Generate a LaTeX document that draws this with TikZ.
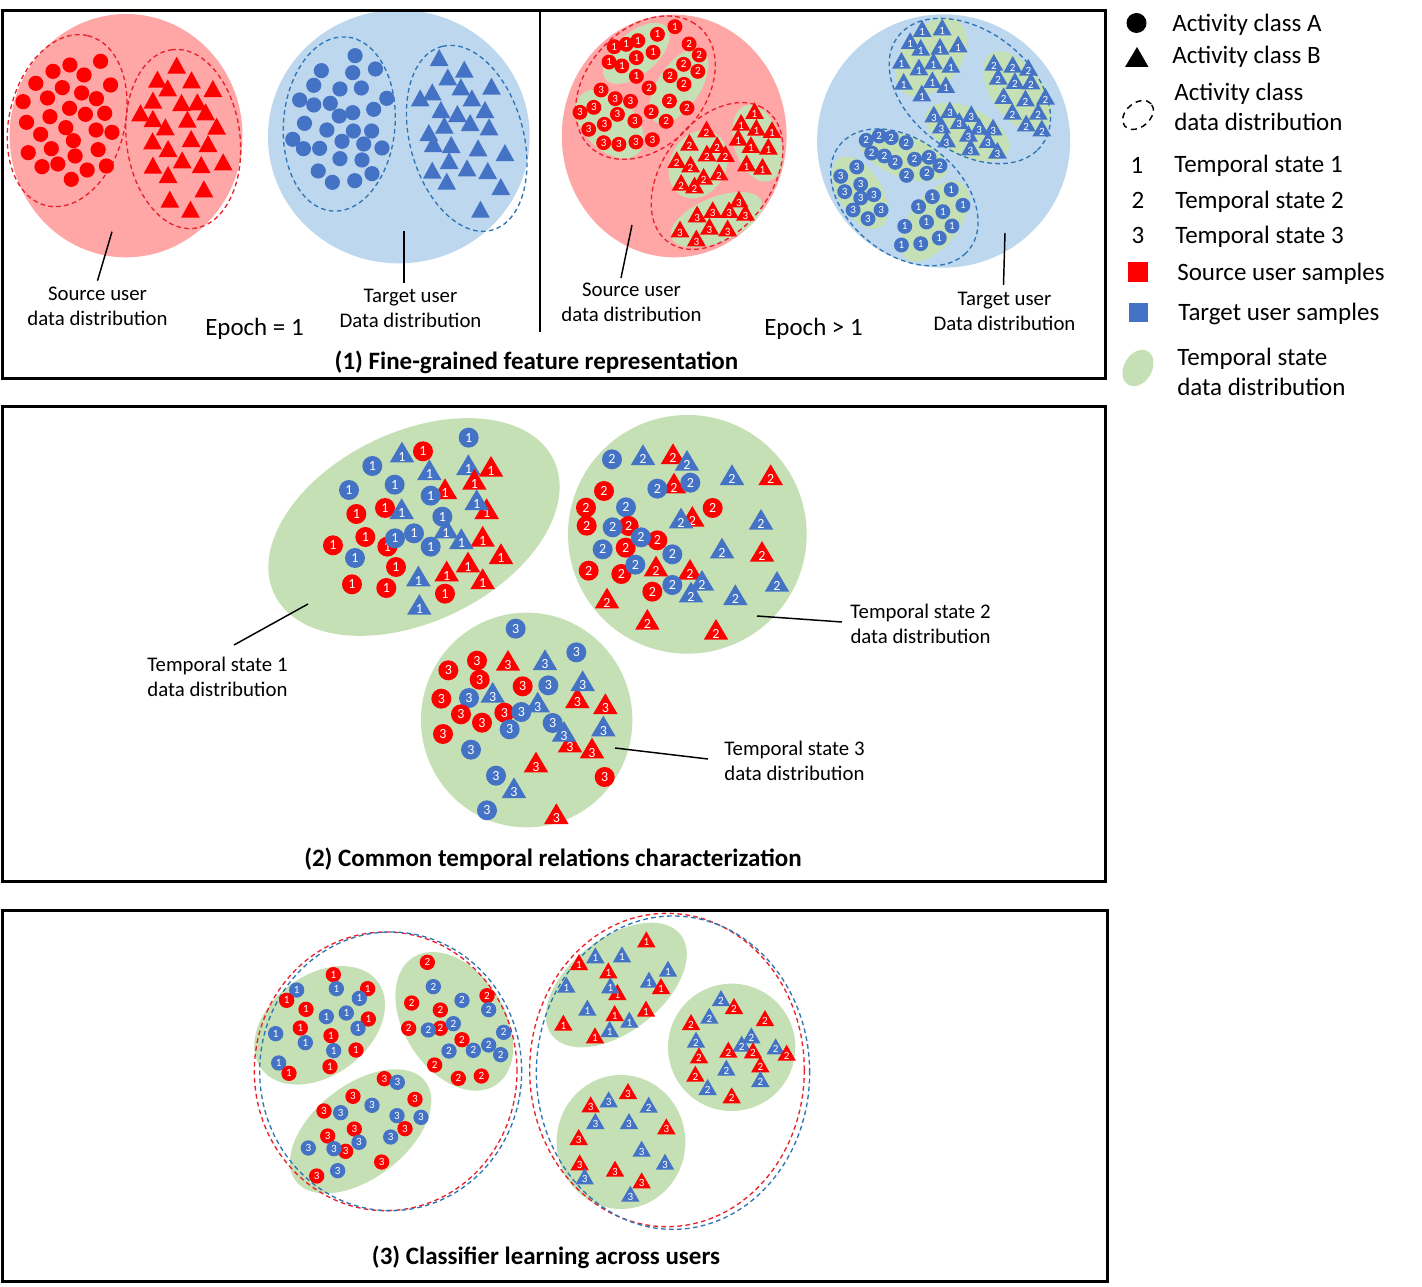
\documentclass[tikz,border=0pt]{standalone}
\usepackage{fontspec}
\setmainfont{Carlito}
\definecolor{pinkbg}{HTML}{FFA6A6}
\definecolor{bluebg}{HTML}{BDD7EE}
\definecolor{greenbg}{HTML}{C5E0B4}
\definecolor{mblue}{HTML}{4472C4}
\definecolor{dashblue}{HTML}{2E75B6}
\definecolor{dashred}{HTML}{E8212B}
\tikzset{
  panelbox/.style={draw=black,line width=2.25pt},
  reddash/.style={draw=dashred,line width=1pt,dash pattern=on 3.5pt off 2.5pt},
  bluedash/.style={draw=dashblue,line width=1pt,dash pattern=on 3.5pt off 2.5pt},
  pinkfill/.style={fill=pinkbg},
  bluefill/.style={fill=bluebg},
  greenfill/.style={fill=greenbg},
  leader/.style={draw=black,line width=1.1pt},
  lab/.style={font=\fontsize{15.6pt}{18.75pt}\selectfont,align=center,inner sep=0pt,anchor=base},
  epochlab/.style={font=\fontsize{18.7pt}{20pt}\selectfont,inner sep=0pt,anchor=base},
  titlelab/.style={font=\fontsize{18.75pt}{20pt}\selectfont\bfseries,inner sep=0pt,anchor=base},
  leglab/.style={font=\fontsize{18.75pt}{20pt}\selectfont,inner sep=0pt,anchor=base west},
  legnum/.style={font=\fontsize{18.75pt}{20pt}\selectfont,inner sep=0pt,anchor=base},
  numlab/.style={font=\fontsize{\numsize}{\numsize}\selectfont,text=white,inner sep=0pt},
}
\def\numsize{8.5pt}\def\rad{5.25pt}\def\tA{9pt}\def\tB{3.5pt}\def\tW{6.5pt}\def\lab{}\def\xfix{1}
\newcommand\mkrc{\fill[red] (\x,\y) circle[x radius=\rad/\xfix,y radius=\rad];\node[numlab] at (\x,\y) {\lab};}
\newcommand\mkbc{\fill[mblue] (\x,\y) circle[x radius=\rad/\xfix,y radius=\rad];\node[numlab] at (\x,\y) {\lab};}
\newcommand\mkrt{\fill[red] (\x,\y) ++(0pt,\tA) -- ++(\tW,{-\tA-\tB}) -- ++({-2*\tW},0pt) -- cycle;\node[numlab] at (\x,\y) {\lab};}
\newcommand\mkbt{\fill[mblue] (\x,\y) ++(0pt,\tA) -- ++(\tW,{-\tA-\tB}) -- ++({-2*\tW},0pt) -- cycle;\node[numlab] at (\x,\y) {\lab};}
\newcommand\items[2]{\def\lab{#1}\foreach \t/\x/\y in {#2}{\csname mk\t\endcsname}}
\newcommand\blob[6]{\path[#1,shift={(#2,#3)},rotate=#6] (0,0) circle[x radius=#4*.25pt,y radius=#5*.25pt];}
\tikzset{zoomed/.style 2 args={shift={(#1,#2)},x=.25pt,y=-.25pt}}
\begin{document}
\begin{tikzpicture}[x=.75pt,y=-.75pt]
\useasboundingbox (0,0) rectangle (1422,1287);
\fill[white] (0,0) rectangle (1422,1287);
%% PANEL 1 left
\begin{scope}[zoomed={0}{0},xscale=1.0333]
\def\xfix{1.0333}
\blob{pinkfill}{366}{407}{338}{365}{0}
\blob{bluefill}{1158}{410}{380}{380}{0}
\blob{reddash}{195}{362}{262}{168}{77}
\blob{reddash}{532}{417}{270}{165}{96.6}
\blob{bluedash}{985}{372}{262}{162}{85.6}
\blob{bluedash}{1355}{415}{285}{165}{104.5}
\def\rad{5.7pt}\def\tA{0pt}\def\tB{12.8pt}\def\tW{6.8pt}
\items{}{rc/292/184,rc/203/195,rc/154/214,rc/244/225,rc/104/250,rc/181/263,rc/321/255,rc/237/279,rc/138/294,rc/280/296,rc/67/305,rc/202/325,rc/248/343,rc/304/340,rc/145/350,rc/77/367,rc/191/383,rc/279/390,rc/325/397,rc/118/403,rc/213/422,rc/149/446,rc/285/449,rc/82/458,rc/218/468,rc/168/492,rc/122/500,rc/309/498,rc/253/510,rc/207/538}
\items{}{rt/513/170,rt/457/212,rt/487/238,rt/556/214,rt/618/240,rt/444/275,rt/527/282,rt/573/280,rt/408/313,rt/597/310,rt/444/330,rt/544/332,rt/629/353,rt/480/355,rt/443/397,rt/555/390,rt/604/405,rt/488/420,rt/529/454,rt/444/470,rt/584/468,rt/648/460,rt/488/498,rt/592/541,rt/493/572,rt/553/602}
\items{}{bc/1031/167,bc/1090/207,bc/933/212,bc/1024/218,bc/911/256,bc/987/267,bc/1049/264,bc/1123/295,bc/870/300,bc/911/315,bc/959/310,bc/1085/328,bc/1024/338,bc/985/348,bc/884/370,bc/1079/393,bc/1026/393,bc/949/390,bc/850/418,bc/993/424,bc/1056/432,bc/881/446,bc/928/445,bc/1109/444,bc/987/476,bc/1051/480,bc/924/513,bc/1080/521,bc/965/547,bc/1030/542}
\items{}{bt/1275/147,bt/1348/182,bt/1300/205,bt/1338/235,bt/1427/233,bt/1220/268,bt/1255/250,bt/1370/268,bt/1280/303,bt/1408/303,bt/1328/315,bt/1290/350,bt/1365/342,bt/1420/355,bt/1245/372,bt/1258/405,bt/1310/408,bt/1388/418,bt/1466/432,bt/1304/456,bt/1356/478,bt/1255/485,bt/1416/486,bt/1297/518,bt/1454/534,bt/1395/602}
\end{scope}
%% PANEL 1 right
\begin{scope}[zoomed={540}{0},xscale=1.0909]
\def\xfix{1.0909}\def\rad{5.6pt}
\blob{pinkfill}{369}{408}{309}{364}{0}
\blob{bluefill}{1110}{423}{348}{380}{0}
\blob{greenfill}{265}{160}{115}{60}{45}
\blob{greenfill}{382}{258}{125}{60}{60}
\blob{greenfill}{192}{372}{118}{74}{-51}
\blob{greenfill}{435}{493}{105}{78}{70}
\blob{greenfill}{598}{430}{118}{64}{-75}
\blob{greenfill}{486}{659}{136}{66}{25}
\blob{greenfill}{1076}{172}{130}{82}{57}
\blob{greenfill}{1312}{275}{135}{72}{-58}
\blob{greenfill}{1175}{396}{127}{70}{-30}
\blob{greenfill}{1000}{468}{128}{62}{-23}
\blob{greenfill}{880}{578}{118}{62}{-63}
\blob{greenfill}{1085}{664}{137}{70}{57}
\blob{reddash}{290}{263}{235}{167}{55}
\blob{reddash}{487}{528}{240}{154}{58.8}
\blob{bluedash}{1182}{273}{257}{175}{-43.6}
\blob{bluedash}{1002}{592}{238}{163}{-46}
\def\numsize{8.3pt}
\items{1}{rc/371/80,rc/323/103,rc/269/122,rc/237/133,rc/204/140,rc/311/157,rc/265/173,rc/190/186,rc/225/198,rc/265/229}
\items{2}{rc/410/132,rc/438/165,rc/395/193,rc/434/214,rc/358/227,rc/396/253,rc/300/264,rc/356/303,rc/404/324,rc/306/335,rc/347/364}
\items{3}{rc/168/270,rc/207/296,rc/249/304,rc/148/322,rc/110/337,rc/213/343,rc/261/363,rc/177/373,rc/134/388,rc/309/419,rc/264/426,rc/217/433,rc/175/428}
\items{1}{rt/590/343,rt/553/378,rt/595/393,rt/638/400,rt/545/423,rt/580/445,rt/628/450,rt/568/500,rt/612/510}
\items{2}{rt/458/398,rt/411/438,rt/487/445,rt/459/470,rt/510/472,rt/376/490,rt/414/503,rt/492/527,rt/450/540,rt/388/558,rt/425/566}
\items{3}{rt/547/608,rt/520/640,rt/475/640,rt/432/653,rt/565/648,rt/466/690,rt/516/695,rt/385/698,rt/430/725}
\items{1}{bt/1051/97,bt/1106/92,bt/1018/133,bt/1047/153,bt/1100/150,bt/1150/143,bt/994/192,bt/1042/212,bt/1082/194,bt/1130/204,bt/1000/255,bt/1079/250,bt/1116/265,bt/1050/290}
\items{2}{bt/1248/198,bt/1300/204,bt/1343/213,bt/1260/240,bt/1306/253,bt/1350/254,bt/1275/298,bt/1335/305,bt/1390/300,bt/1299/345,bt/1370/345,bt/1337/380,bt/1380/395}
\items{3}{bt/1127/340,bt/1083/353,bt/1186/352,bt/1104/386,bt/1153/373,bt/1208/390,bt/1246/392,bt/1178/411,bt/1232/430,bt/1118/428,bt/1184/452,bt/1258/462}
\items{2}{bc/897/421,bc/933/408,bc/966/413,bc/1007/428,bc/912/459,bc/947/468,bc/977/487,bc/1030/478,bc/1070/472,bc/1100/497,bc/1008/526,bc/1064/520}
\items{3}{bc/871/501,bc/827/529,bc/882/553,bc/838/575,bc/918/584,bc/882/594,bc/861/630,bc/938/630,bc/902/656}
\items{1}{bc/1131/569,bc/1079/590,bc/1163/616,bc/1041/620,bc/1108/635,bc/1063/666,bc/1133/678,bc/1003/679,bc/1098/714,bc/994/735,bc/1047/731}
\end{scope}
%% PANEL 2
\def\numsize{10.5pt}\def\rad{7.5pt}\def\tA{11.25pt}\def\tB{4.3pt}\def\tW{9.2pt}
\begin{scope}[zoomed={260}{410}]
\blob{greenfill}{462}{351}{465}{285}{25.7}
\items{1}{bc/626/83,bt/426/140,rc/489/124,bc/337/168,bt/508/193,rt/555/250,bc/404/224,bt/625/178,rt/693/183,rt/643/222,bc/267/240,bc/512/257,rt/680/310,bt/650/283,rc/375/294,bt/425/310,rc/289/312,rc/316/381,bt/558/368,bc/547/320,rt/668/393,rc/219/406,rc/382/410,bc/405/385,bc/462/370,bc/512/410,bt/604/400,bc/285/444,rc/408/471,rt/723/445,rt/624/470,rt/560/497,bt/475/512,rt/668/520,rc/276/523,rc/379/534,rc/555/551,bt/478/597}
\end{scope}
\begin{scope}[zoomed={560}{410}]
\blob{greenfill}{382}{373}{358}{358}{0}
\items{2}{bc/156/148,bt/249/148,rt/339/145,bt/381/165,rt/342/233,bc/292/236,bc/391/218,bt/516/208,rt/632/208,rc/132/243,rc/78/293,bc/198/292,rc/458/294,rt/397/333,bt/363/338,rc/80/347,rc/206/348,bc/158/352,bt/603/342,rc/292/391,rc/197/413,bc/243/382,bc/128/418,bt/486/428,rt/606/438,bc/337/433,rc/86/482,rc/184/492,bc/226/464,rt/288/482,rt/390/492,bt/426/525,bc/337/525,bt/393/560,rc/277/545,bt/526/568,bt/651/528,rt/141/578,rt/262/642,rt/468/672}
\end{scope}
\begin{scope}[zoomed={415}{610}]
\blob{greenfill}{335}{330}{317}{322}{0}
\items{3}{bc/302/56,bc/484/127,rc/186/152,rt/279/165,bt/390/163,rc/100/181,rc/194/209,bc/400/226,rt/487/277,bt/503/226,rc/323/229,bt/233/261,bc/162/264,rc/79/266,bt/368/290,rt/571/295,rc/138/313,rc/268/308,bc/319/306,rc/201/338,bc/284/358,bc/413/339,rc/84/372,rt/465/410,bt/447/378,bt/565/362,rt/531/428,bc/168/419,rt/363/470,bc/243/497,rc/569/501,bt/297/547,bc/216/601,rt/424/625}
\end{scope}
%% PANEL 3
\def\numsize{8.3pt}\def\rad{5.75pt}\def\tA{8.25pt}\def\tB{3.75pt}\def\tW{6.9pt}
\begin{scope}[zoomed={250}{925}]
\blob{greenfill}{209}{301}{218}{150}{37}
\blob{greenfill}{613}{289}{228}{150}{-57}
\blob{greenfill}{332}{619}{245}{140}{37.6}
\blob{reddash}{407}{439}{394}{418}{0}
\blob{bluedash}{422}{439}{393}{418}{0}
\items{1}{rc/250/149,bc/259/191,rc/353/191,bc/140/195,bc/328/220,rc/110/226,rc/168/253,bc/289/264,bc/229/275,rc/355/282,bc/324/310,rc/151/309,bc/77/326,rc/243/332,bc/166/353,bc/251/377,rc/318/375,bc/86/414,rc/117/445,rc/240/425}
\items{2}{rc/532/112,bc/550/185,bc/636/226,rc/711/212,rc/485/234,rc/571/255,bc/716/254,rc/476/310,rc/571/310,bc/535/315,bc/610/296,bc/761/322,rc/636/344,bc/716/360,bc/670/376,bc/597/378,bc/752/389,rc/554/420,rc/625/460,rc/694/453}
\items{3}{rc/403/461,bc/442/472,rc/309/514,rc/495/523,bc/366/541,rc/222/558,bc/272/563,bc/441/572,bc/513/577,rc/313/612,rc/465/611,bc/422/636,rc/233/633,bc/327/652,rc/287/679,bc/252/671,bc/175/669,rc/395/711,bc/263/737,rc/200/753}
\end{scope}
\begin{scope}[zoomed={528}{910}]
\blob{greenfill}{265}{225}{245}{140}{38}
\blob{greenfill}{611}{412}{191}{191}{0}
\blob{greenfill}{279}{696}{193}{201}{0}
\blob{reddash}{417}{480}{412}{470}{0}
\blob{bluedash}{435}{488}{410}{470}{0}
\items{1}{rt/355/97,bt/202/145,bt/282/142,rt/153/165,rt/241/190,bt/420/185,bt/363/218,bt/115/233,rt/268/255,bt/247/235,rt/399/237,bt/178/302,rt/354/305,rt/260/318,bt/304/338,rt/106/347,bt/245/366,rt/201/385}
\items{2}{bt/579/273,rt/618/297,bt/544/326,rt/711/333,rt/489/345,bt/504/398,bt/670/385,bt/641/410,rt/601/428,rt/675/430,bt/743/418,rt/776/437,rt/513/445,rt/697/472,bt/595/482,rt/502/500,bt/697/516,bt/539/540,rt/611/565}
\items{3}{rt/300/552,bt/242/577,rt/188/592,bt/202/642,bt/303/642,rt/415/658,rt/152/690,bt/341/725,bt/411/764,rt/155/766,rt/261/785,bt/170/808,rt/341/820,bt/307/860}
\items{2}{bt/362/593}
\end{scope}
%% panel frames
\draw[panelbox] (2,11) rectangle (1105,379);
\draw[panelbox] (2,407) rectangle (1105,881);
\draw[panelbox] (2,910) rectangle (1107,1281);
\coordinate (sepT) at (540,11); \coordinate (sepB) at (540,332);
\draw[draw=black,line width=1.5pt] (sepT) -- (sepB);
%% leaders
\coordinate (a1) at (112,231.7); \coordinate (a2) at (97.5,280.7);
\coordinate (b1) at (404,231); \coordinate (b2) at (404,283);
\coordinate (c1) at (632,225); \coordinate (c2) at (621,278);
\coordinate (d1) at (1005,233); \coordinate (d2) at (1003.5,285);
\coordinate (e1) at (308,604); \coordinate (e2) at (234,645);
\coordinate (f1) at (757,616); \coordinate (f2) at (842,622);
\coordinate (g1) at (615,748); \coordinate (g2) at (708,759);
\foreach \p/\q in {a1/a2,b1/b2,c1/c2,d1/d2,e1/e2,f1/f2,g1/g2}{\draw[leader] (\p) -- (\q);}
%% labels
\node[lab] (la) at (97.5,326) {Source user\\data distribution};
\node[lab] (lb) at (410.5,328) {Target user\\Data distribution};
\node[lab] (lc) at (631.5,322) {Source user\\data distribution};
\node[lab] (ld) at (1004.5,331) {Target user\\Data distribution};
\node[lab] (le) at (217.5,696) {Temporal state 1\\data distribution};
\node[lab] (lf) at (920.5,643) {Temporal state 2\\data distribution};
\node[lab] (lg) at (794.5,780) {Temporal state 3\\data distribution};
\node[epochlab] (ep1) at (254.5,336) {Epoch = 1};
\node[epochlab] (ep2) at (813.5,336) {Epoch > 1};
\node[titlelab] (t1) at (536.5,370) {(1) Fine-grained feature representation};
\node[titlelab] (t2) at (553,866) {(2) Common temporal relations characterization};
\node[titlelab] (t3) at (546,1264) {(3) Classifier learning across users};
%% legend
\fill[black] (1136.5,23) circle[radius=7.5pt];
\fill[black] (1137,47) -- (1148.5,67) -- (1125,67) -- cycle;
\path[draw=black,line width=1.1pt,dash pattern=on 4.5pt off 3.5pt,shift={(1138,115)},rotate=40] (0,0) circle[x radius=13pt,y radius=9pt];
\fill[red] (1128,262) rectangle (1148,282);
\fill[mblue] (1129,303) rectangle (1148,322);
\path[greenfill,shift={(1138,368)},rotate=60] (0,0) circle[x radius=14.5pt,y radius=10.5pt];
\node[leglab] (k1) at (1172,32) {Activity class A};
\node[leglab] (k2) at (1172,64) {Activity class B};
\node[leglab] (k3) at (1174,101) {Activity class};
\node[leglab] (k4) at (1174,131) {data distribution};
\node[legnum] (n1) at (1137,174) {1};
\node[legnum] (n2) at (1138,209) {2};
\node[legnum] (n3) at (1138,244) {3};
\node[leglab] (k5) at (1174,173) {Temporal state 1};
\node[leglab] (k6) at (1175,209) {Temporal state 2};
\node[leglab] (k7) at (1175,244) {Temporal state 3};
\node[leglab] (k8) at (1177,281) {Source user samples};
\node[leglab] (k9) at (1178,321) {Target user samples};
\node[leglab] (k10) at (1177,366) {Temporal state};
\node[leglab] (k11) at (1177,396) {data distribution};
\end{tikzpicture}
\end{document}
